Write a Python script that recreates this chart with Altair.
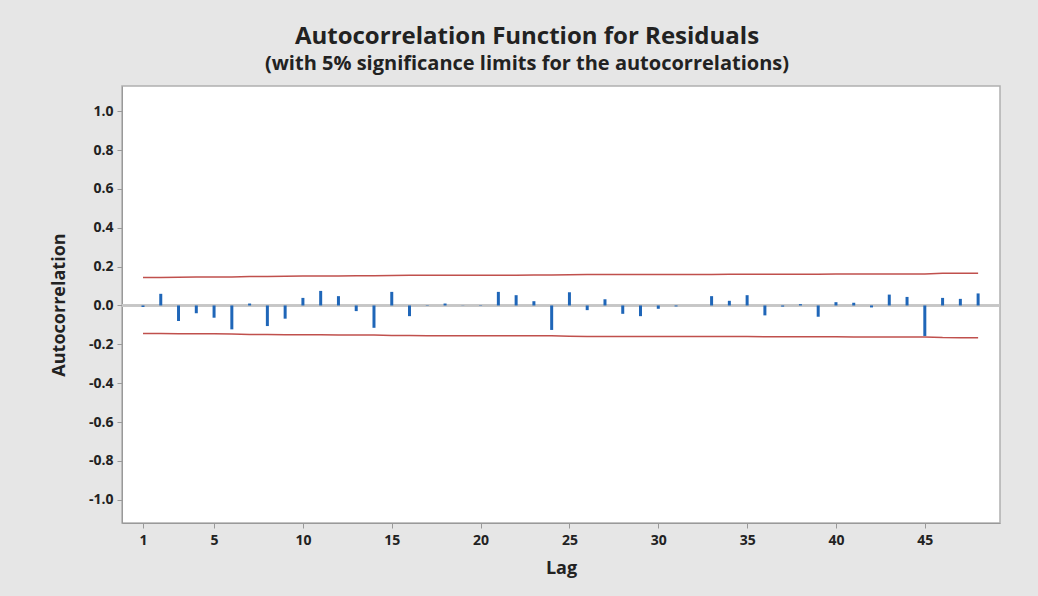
import altair as alt
import pandas as pd

lags = list(range(1, 49))
acf = [-0.008, 0.060, -0.080, -0.040, -0.063, -0.123, 0.010, -0.106, -0.068, 0.039,
       0.075, 0.048, -0.029, -0.115, 0.070, -0.055, 0.002, 0.010, 0.001, -0.002,
       0.070, 0.053, 0.022, -0.126, 0.068, -0.024, 0.032, -0.043, -0.055, -0.017,
       -0.005, 0.000, 0.048, 0.024, 0.053, -0.051, -0.006, 0.007, -0.058, 0.017,
       0.014, -0.010, 0.056, 0.044, -0.157, 0.039, 0.034, 0.062]
limit = [0.1445, 0.1445, 0.1450, 0.1460, 0.1462, 0.1467, 0.1489, 0.1489, 0.1505, 0.1511,
         0.1513, 0.1521, 0.1524, 0.1525, 0.1543, 0.1550, 0.1554, 0.1554, 0.1554, 0.1554,
         0.1554, 0.1561, 0.1564, 0.1565, 0.1586, 0.1592, 0.1593, 0.1594, 0.1597, 0.1601,
         0.1601, 0.1601, 0.1601, 0.1604, 0.1604, 0.1608, 0.1612, 0.1612, 0.1612, 0.1616,
         0.1617, 0.1617, 0.1617, 0.1621, 0.1623, 0.1655, 0.1657, 0.1658]
x_ticks = [1, 5, 10, 15, 20, 25, 30, 35, 40, 45]
y_ticks = [-1.0, -0.8, -0.6, -0.4, -0.2, 0.0, 0.2, 0.4, 0.6, 0.8, 1.0]

df = pd.DataFrame({"Lag": lags, "ACF": acf, "Upper": limit,
                   "Lower": [-v for v in limit], "Zero": [0.0] * len(lags)})

FONT = "Open Sans"
xscale = alt.Scale(domain=[0.1, 48.95], nice=False, zero=False)
yscale = alt.Scale(domain=[-1.12, 1.13], nice=False)

xaxis = alt.Axis(values=x_ticks, title="Lag", labelFontWeight="bold", labelFontSize=14,
                 labelColor="#222222", titleFontSize=18, titleFontWeight="bold",
                 titleColor="#222222", titlePadding=12, tickSize=5, tickColor="#999999",
                 domainColor="#999999", grid=False, labelFont=FONT, titleFont=FONT,
                 labelPadding=5)
yaxis = alt.Axis(values=y_ticks, title="Autocorrelation", labelFontWeight="bold",
                 labelExpr="datum.value < 0 ? '-' + format(-datum.value, '.1f') : format(datum.value, '.1f')",
                 labelFontSize=14, labelColor="#222222", titleFontSize=18,
                 titleFontWeight="bold", titleColor="#222222", titlePadding=20, tickSize=5,
                 tickColor="#999999", domainColor="#999999", grid=False,
                 labelFont=FONT, titleFont=FONT, labelPadding=4)

base = alt.Chart(df)

zero = base.mark_rule(color="#c6c6c6", strokeWidth=1.5).encode(
    y=alt.Y("Zero:Q", scale=yscale, axis=yaxis),
    x=alt.value(0), x2=alt.value(878))

bars = base.mark_bar(color="#1f66b8", width=3).encode(
    x=alt.X("Lag:Q", scale=xscale, axis=xaxis),
    y=alt.Y("ACF:Q", scale=yscale, axis=yaxis),
    y2="Zero:Q")

upper = base.mark_line(color="#c0504d", strokeWidth=1.5).encode(
    x=alt.X("Lag:Q", scale=xscale, axis=xaxis),
    y=alt.Y("Upper:Q", scale=yscale, axis=yaxis))
lower = base.mark_line(color="#c0504d", strokeWidth=1.5).encode(
    x=alt.X("Lag:Q", scale=xscale, axis=xaxis),
    y=alt.Y("Lower:Q", scale=yscale, axis=yaxis))

chart = alt.layer(zero, upper, lower, bars).properties(
    width=878, height=437,
    background="#e6e6e6",
    padding={"left": 122, "top": 86, "right": 38, "bottom": 73},
    autosize=alt.AutoSizeParams(type="none"),
    title=alt.TitleParams(
        text="Autocorrelation Function for Residuals",
        subtitle="(with 5% significance limits for the autocorrelations)",
        font=FONT, fontSize=24, fontWeight="bold", color="#222222",
        subtitleFont=FONT, subtitleFontSize=20, subtitleFontWeight="bold",
        subtitleColor="#222222", anchor="middle", dx=-34, offset=12,
        subtitlePadding=5),
).configure_view(stroke="#b0b0b0", strokeWidth=1.5, fill="white")

chart.save("out.html", embed_options={"renderer": "svg", "actions": False})
